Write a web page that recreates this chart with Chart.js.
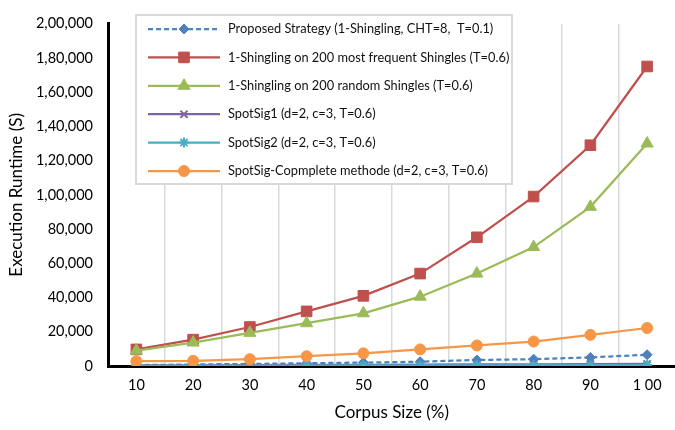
<!DOCTYPE html>
<html lang="en">
<head>
<meta charset="UTF-8">
<title>Execution Runtime vs Corpus Size</title>
<script src="https://cdn.jsdelivr.net/npm/chart.js"></script>
<style>
    html, body {
        margin: 0;
        padding: 0;
        background: #fff;
        overflow: hidden;
    }
    canvas {
        display: block;
    }
</style>
</head>
<body>
<canvas id="runtimeChart" width="684" height="430"></canvas>
<script>
// values
const corpusSizes = ["10", "20", "30", "40", "50", "60", "70", "80", "90", "1 00"];
const yTickLabels = ["0", "20,000", "40,000", "60,000", "80,000", "1,00,000",
                     "1,20,000", "1,40,000", "1,60,000", "1,80,000", "2,00,000"];

const seriesNames = [
    "Proposed Strategy (1-Shingling, CHT=8,  T=0.1)",
    "1-Shingling on 200 most frequent Shingles (T=0.6)",
    "1-Shingling on 200 random Shingles (T=0.6)",
    "SpotSig1 (d=2, c=3, T=0.6)",
    "SpotSig2 (d=2, c=3, T=0.6)",
    "SpotSig-Copmplete methode (d=2, c=3, T=0.6)"
];

const proposed   = [500, 900, 1200, 1600, 2000, 2500, 3500, 4000, 5000, 6600];
const mostFreq   = [9700, 15400, 22800, 31900, 41000, 54000, 75200, 99000, 129000, 175000];
const randomSh   = [9000, 13700, 19400, 25000, 30800, 40500, 54000, 69500, 93000, 130000];
const spotSig1   = [300, 400, 500, 600, 700, 800, 900, 1000, 1100, 1200];
const spotSig2   = [100, 150, 200, 250, 300, 350, 400, 450, 500, 550];
const spotSigAll = [2800, 3000, 4000, 5700, 7400, 9700, 12000, 14300, 18200, 22200];

const fontFamily = "Lato, 'Open Sans', sans-serif";

function series(i, data, color, style, radius, dashed) {
    return {
        label: seriesNames[i],
        data: data,
        borderColor: color,
        backgroundColor: color,
        pointBackgroundColor: color,
        pointBorderColor: color,
        pointStyle: style,
        pointRadius: radius,
        pointBorderWidth: (style === "crossRot" || style === "star") ? 2 : 1,
        borderWidth: 2.25,
        borderDash: dashed ? [5, 3] : [],
        tension: 0,
        fill: false,
        order: 6 - i
    };
}

const datasets = [
    series(0, proposed, "#4F81BD", "rectRot", 5, true),
    series(1, mostFreq, "#C0504D", "rect", 7.5, false),
    series(2, randomSh, "#9BBB59", "triangle", 7, false),
    series(3, spotSig1, "#8064A2", "crossRot", 5, false),
    series(4, spotSig2, "#4BACC6", "star", 5, false),
    series(5, spotSigAll, "#F79646", "circle", 5.5, false)
];

// legend box drawn inside the plot, like the original
const boxLegend = {
    id: "boxLegend",
    afterDraw(chart) {
        const ctx = chart.ctx;
        const x0 = 136, y0 = 15, w = 376, h = 169;
        ctx.save();
        ctx.fillStyle = "#fff";
        ctx.fillRect(x0, y0, w, h);
        ctx.strokeStyle = "#D9D9D9";
        ctx.lineWidth = 2;
        ctx.strokeRect(x0, y0, w, h);
        chart.data.datasets.forEach((ds, i) => {
            const y = 29 + i * 28.4;
            ctx.strokeStyle = ds.borderColor;
            ctx.lineWidth = 2.25;
            ctx.setLineDash(ds.borderDash);
            ctx.beginPath();
            ctx.moveTo(148, y);
            ctx.lineTo(220, y);
            ctx.stroke();
            ctx.setLineDash([]);
            if (Chart.helpers && Chart.helpers.drawPoint) {
                ctx.fillStyle = ds.pointBackgroundColor;
                ctx.strokeStyle = ds.pointBorderColor;
                ctx.lineWidth = ds.pointBorderWidth;
                Chart.helpers.drawPoint(ctx, {
                    pointStyle: ds.pointStyle,
                    radius: ds.pointRadius,
                    rotation: 0,
                    borderWidth: ds.pointBorderWidth
                }, 184, y);
            }
            ctx.fillStyle = "#111";
            ctx.font = "12.8px " + fontFamily;
            ctx.textBaseline = "middle";
            ctx.textAlign = "left";
            ctx.fillText(ds.label, 228, y);
        });
        ctx.restore();
    }
};

const ctx = document.getElementById("runtimeChart").getContext("2d");
new Chart(ctx, {
    type: "line",
    data: {
        labels: corpusSizes,
        datasets: datasets
    },
    options: {
        responsive: false,
        animation: false,
        layout: { padding: { top: 15, right: 1, left: 0, bottom: 0 } },
        plugins: {
            legend: { display: false },
            tooltip: { enabled: false }
        },
        scales: {
            x: {
                type: "category",
                offset: true,
                grid: {
                    offset: true,
                    color: "#D9D9D9",
                    lineWidth: 1.5,
                    drawTicks: false
                },
                border: { color: "#000", width: 3 },
                ticks: {
                    color: "#000",
                    padding: 11,
                    font: { family: fontFamily, size: 14.5 },
                    maxRotation: 0,
                    autoSkip: false
                },
                title: {
                    display: true,
                    text: "Corpus Size (%)",
                    color: "#000",
                    font: { family: fontFamily, size: 17 },
                    padding: { top: 0, bottom: 7 }
                },
                afterFit(scale) { scale.height = 64; }
            },
            y: {
                min: 0,
                max: 200000,
                grid: { display: false, drawTicks: false },
                border: { color: "#000", width: 3 },
                ticks: {
                    stepSize: 20000,
                    color: "#000",
                    padding: 15,
                    font: { family: fontFamily, size: 14.5 },
                    callback: (value, index) => yTickLabels[index]
                },
                title: {
                    display: true,
                    text: "Execution Runtime (S)",
                    color: "#000",
                    font: { family: fontFamily, size: 17 },
                    padding: { top: 6, bottom: 0 }
                },
                afterFit(scale) { scale.width = 108; }
            }
        }
    },
    plugins: [boxLegend]
});
</script>
</body>
</html>
